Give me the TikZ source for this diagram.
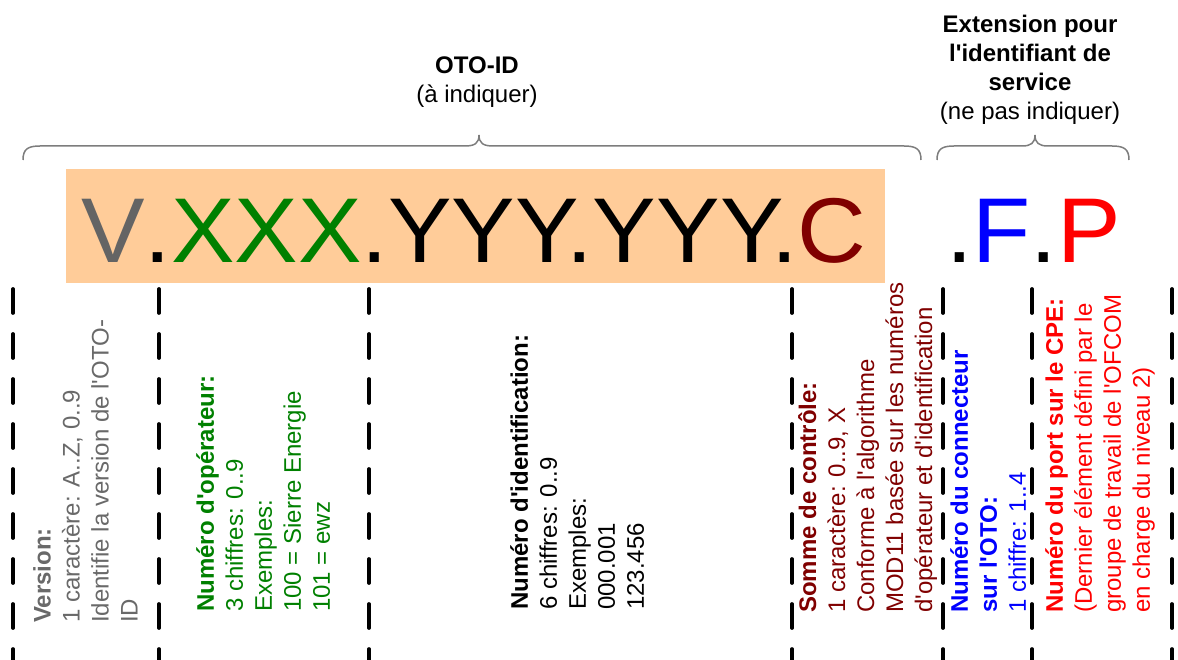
\documentclass[tikz,border=0pt]{standalone}
\usepackage{fontspec}
\usepackage{graphicx}
\setmainfont{Liberation Sans}[Ligatures=TeXOff]
\definecolor{peach}{RGB}{255,204,153}
\definecolor{vgray}{RGB}{100,100,100}
\definecolor{tgray}{RGB}{105,105,105}
\definecolor{xgreen}{RGB}{0,128,0}
\definecolor{cred}{RGB}{128,0,0}
\definecolor{fblue}{RGB}{0,0,255}
\definecolor{pred}{RGB}{255,0,0}
\definecolor{bracegray}{RGB}{125,125,125}
\begin{document}
\begin{tikzpicture}[x=1pt,y=-1pt,
  lbl/.style={inner sep=0pt, rotate=90, anchor=north west, align=left,
              font=\fontsize{24}{29}\selectfont},
  ttl/.style={inner sep=0pt, anchor=north, align=center,
              font=\fontsize{24}{29}\selectfont},
  big/.style={anchor=base west, inner sep=0pt, font=\fontsize{92}{92}\selectfont},
  sep/.style={line width=3.7pt, dash pattern=on 24pt off 21pt, line cap=round},
  brc/.style={draw=bracegray, line width=1.5pt}]
\useasboundingbox (0,0) rectangle (1178,660);
% highlighted OTO-ID
\fill[peach] (66,169) rectangle (885,283);
\node[big] (id) at (81,263)
  {\scalebox{1.035}[1]{\textcolor{vgray}{V}.\textcolor{xgreen}{XXX}.YYY.YYY.\textcolor{cred}{C}}};
\node[big] (ext) at (946,263)
  {\scalebox{1.035}[1]{.\textcolor{fblue}{F}.\textcolor{pred}{P}}};
% braces
\draw[brc] (23,160) .. controls (23,149) and (28,146) .. (40,146) -- (465,146)
  .. controls (475,146) and (479,143) .. (479,135)
  .. controls (479,143) and (483,146) .. (493,146) -- (904,146)
  .. controls (916,146) and (921,149) .. (921,160);
\draw[brc] (937,160) .. controls (937,149) and (942,146) .. (954,146) -- (1022,146)
  .. controls (1031,146) and (1035,143) .. (1035,135)
  .. controls (1035,143) and (1039,146) .. (1048,146) -- (1112,146)
  .. controls (1124,146) and (1129,149) .. (1129,160);
% titles
\node[ttl] (otoid) at (477,57) {\textbf{OTO-ID}\\(à indiquer)};
\node[ttl] (exttl) at (1030,15) {\textbf{Extension pour}\\\textbf{l'identifiant de}\\\textbf{service}\\(ne pas indiquer)};
% separators
\foreach \xx in {13,159,369,792,943,1032,1172}
  \draw[sep] (\xx,289) -- (\xx,662);
% rotated descriptions
\node[lbl, text=tgray] (c1) at (33,623)
  {\textbf{Version:}\\1 caractère: A..Z, 0..9\\Identifie la version de l'OTO-\\ID};
\node[lbl, text=xgreen] (c2) at (196,612)
  {\textbf{Numéro d'opérateur:}\\3 chiffres: 0..9\\Exemples:\\100 = Sierre Energie\\101 = ewz};
\node[lbl, text=black] (c3) at (510,610)
  {\textbf{Numéro d'identification:}\\6 chiffres: 0..9\\Exemples:\\000.001\\123.456};
\node[lbl, text=cred] (c4) at (798,613)
  {\textbf{Somme de contrôle:}\\1 caractère: 0..9, X\\Conforme à l'algorithme\\MOD11 basée sur les numéros\\d'opérateur et d'identification};
\node[lbl, text=fblue] (c5) at (950,613)
  {\textbf{Numéro du connecteur}\\\textbf{sur l'OTO:}\\1 chiffre: 1..4};
\node[lbl, text=pred] (c6) at (1045,613)
  {\textbf{Numéro du port sur le CPE:}\\(Dernier élément défini par le\\groupe de travail de l'OFCOM\\en charge du niveau 2)};
\end{tikzpicture}
\end{document}
